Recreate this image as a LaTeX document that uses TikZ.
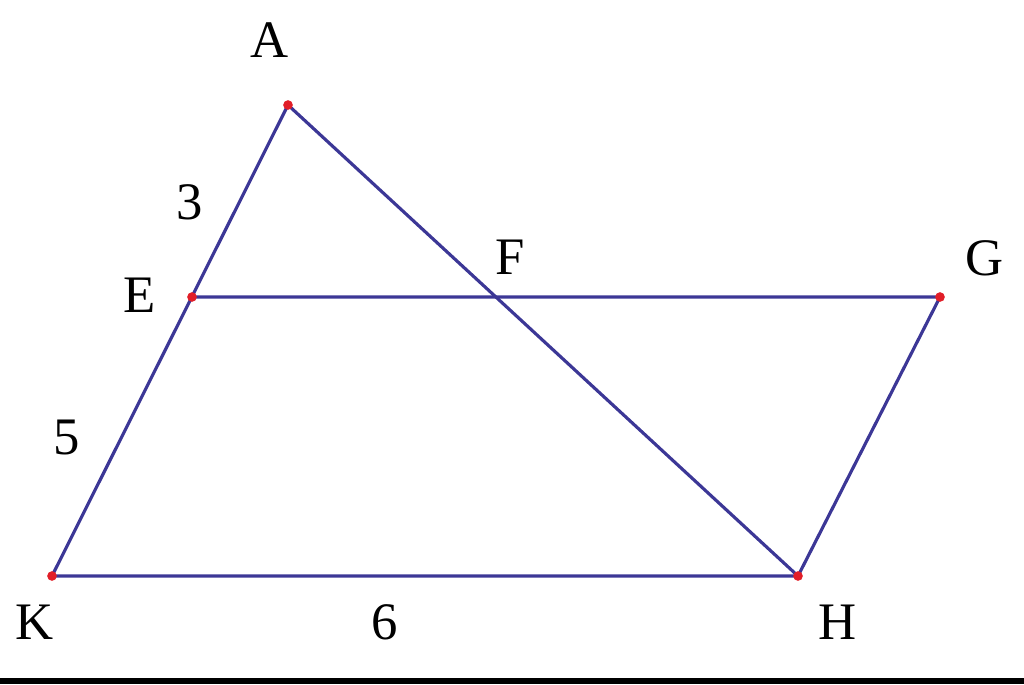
\documentclass[tikz,border=0pt]{standalone}
\usepackage{fontspec}
\setmainfont{Liberation Serif}
\definecolor{seg}{RGB}{60,55,150}
\definecolor{pt}{RGB}{225,30,40}
\tikzset{
  seg/.style={draw=seg, line width=1.8pt},
  lbl/.style={font=\fontsize{30}{34}\selectfont, inner sep=0pt, text=black},
  dot/.style={circle, fill=pt, inner sep=0pt, minimum size=5.5pt}
}
\begin{document}
\begin{tikzpicture}[x=0.02cm,y=-0.02cm]
\useasboundingbox (0,0) rectangle (1024,684);
\fill[black] (0,678) rectangle (1024,684);
\coordinate (A) at (288,105);
\coordinate (E) at (192,297);
\coordinate (G) at (940,297);
\coordinate (K) at (52,576);
\coordinate (H) at (798,576);
\coordinate (F) at (495,297);
\draw[seg] (A) -- (K) -- (H) -- (G) -- (E);
\draw[seg] (A) -- (H);
\foreach \p in {A,E,G,K,H} \node[dot] (d\p) at (\p) {};
\node[lbl] (lA) at (270,40) {A};
\node[lbl] (l3) at (190,202) {3};
\node[lbl] (lE) at (140,295) {E};
\node[lbl] (lF) at (510,257) {F};
\node[lbl] (lG) at (985,258) {G};
\node[lbl] (l5) at (67,437) {5};
\node[lbl] (lK) at (35,622) {K};
\node[lbl] (l6) at (385,622) {6};
\node[lbl] (lH) at (838,622) {H};
\end{tikzpicture}
\end{document}
